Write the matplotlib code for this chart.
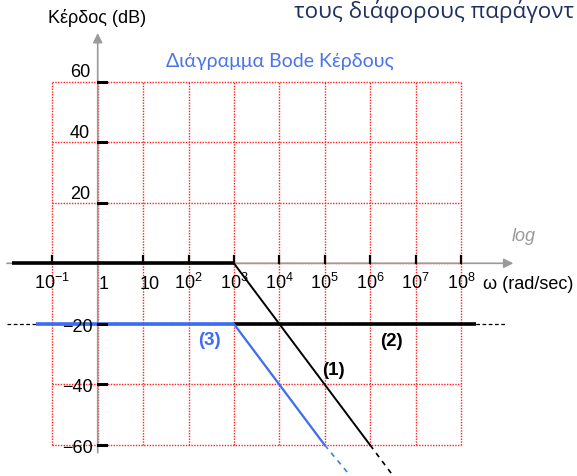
import matplotlib.pyplot as plt

plt.rcParams['font.family'] = ['Liberation Sans', 'DejaVu Sans']
plt.rcParams['mathtext.fontset'] = 'custom'
plt.rcParams['mathtext.rm'] = 'Liberation Sans'
plt.rcParams['mathtext.it'] = 'Liberation Sans:italic'

# frequency axis in decades (log10 of omega)
decades = [-1, 0, 1, 2, 3, 4, 5, 6, 7, 8]
decade_labels = [r'$10^{-1}$', '1', '10', r'$10^2$', r'$10^3$', r'$10^4$',
                 r'$10^5$', r'$10^6$', r'$10^7$', r'$10^8$']
gain_ticks = [60, 40, 20, -20, -40, -60]
gain_labels = ['60', '40', '20', '\u221220', '\u221240', '\u221260']

# (1) single pole at 10^3 rad/s, -20 dB/dec
f1_flat_x, f1_flat_y = [-1.89, 3], [0, 0]
f1_slope_x, f1_slope_y = [3, 6], [0, -60]
f1_tail_x, f1_tail_y = [6, 6.5], [-60, -70]
# (2) constant gain of -20 dB
f2_x, f2_y = [3, 8.33], [-20, -20]
f2_guide_x, f2_guide_y = [-2.0, 9.0], [-20, -20]
# (3) sum of (1) and (2)
f3_flat_x, f3_flat_y = [-1.36, 3], [-20, -20]
f3_slope_x, f3_slope_y = [3, 5], [-20, -60]
f3_tail_x, f3_tail_y = [5, 5.5], [-60, -69]

GRID_RED = '#ff2020'
AXIS_GREY = '#9a9a9a'
BLUE = '#3b6cf2'

fig = plt.figure(figsize=(5.77, 4.77), dpi=100)
ax = fig.add_axes([0, 0, 1, 1])
ax.set_xlim(-2.152, 10.557)
ax.set_ylim(-70.2, 87.23)
ax.axis('off')

# red dotted grid
for d in decades:
    ax.plot([d, d], [-60, 60], color=GRID_RED, lw=1, ls=(0, (1, 1)), zorder=1)
for g in gain_ticks + [0]:
    ax.plot([-1, 8], [g, g], color=GRID_RED, lw=1, ls=(0, (1, 1)), zorder=1)

# axes with arrow heads
ax.annotate('', xy=(9.155, 0), xytext=(-2.0, 0),
            arrowprops=dict(arrowstyle='-|>', color=AXIS_GREY, lw=1.2,
                            mutation_scale=14, shrinkA=0, shrinkB=0), zorder=2)
ax.annotate('', xy=(0, 76.0), xytext=(0, -62.5),
            arrowprops=dict(arrowstyle='-|>', color=AXIS_GREY, lw=1.2,
                            mutation_scale=14, shrinkA=0, shrinkB=0), zorder=2)

# asymptotes
ax.plot(f2_guide_x, f2_guide_y, color='black', lw=0.9, ls=(0, (3, 2)), zorder=3)
ax.plot(f1_flat_x, f1_flat_y, color='black', lw=2.6, solid_capstyle='butt', zorder=4)
ax.plot(f1_slope_x, f1_slope_y, color='black', lw=1.4, zorder=4)
ax.plot(f1_tail_x, f1_tail_y, color='black', lw=1.2, ls=(0, (3, 3)), zorder=4)
ax.plot(f2_x, f2_y, color='black', lw=2.6, solid_capstyle='butt', zorder=4)
ax.plot(f3_flat_x, f3_flat_y, color=BLUE, lw=2.6, solid_capstyle='butt', zorder=5)
ax.plot(f3_slope_x, f3_slope_y, color=BLUE, lw=1.6, zorder=5)
ax.plot(f3_tail_x, f3_tail_y, color='#2f8ad8', lw=1.2, ls=(0, (3, 3)), zorder=5)

# tick marks
for d in decades:
    if d != 0:
        ax.plot([d, d], [0, 2.5], color='black', lw=1.6, zorder=6)
for g in gain_ticks:
    ax.plot([0, 0.18], [g, g], color='black', lw=2.2, zorder=6)

# tick labels
for d, lab in zip(decades, decade_labels):
    dx = 0.14 if lab in ('1', '10') else 0.0
    ax.text(d + dx, -8.2, lab, ha='center', va='baseline', fontsize=13, zorder=7)
for g, lab in zip(gain_ticks, gain_labels):
    if g > 0:
        ax.text(-0.17, g + 3.2, lab, ha='right', va='center', fontsize=13, zorder=7)
    else:
        ax.text(-0.10, g - 0.8, lab, ha='right', va='center', fontsize=13, zorder=7)

ax.text(-0.02, 81.2, 'Κέρδος (dB)', ha='center', va='center', fontsize=13)
ax.text(8.49, -8.2, 'ω (rad/sec)', ha='left', va='baseline', fontsize=13)
ax.text(9.39, 9.3, 'log', ha='center', va='center', fontsize=13,
        style='italic', color=AXIS_GREY)

ax.text(2.46, -25.2, '(3)', ha='center', va='center', fontsize=13.5,
        fontweight='bold', color=BLUE)
ax.text(5.20, -34.9, '(1)', ha='center', va='center', fontsize=13.5, fontweight='bold')
ax.text(6.48, -25.5, '(2)', ha='center', va='center', fontsize=13.5, fontweight='bold')

ax.text(4.015, 66.9, 'Διάγραμμα Bode Κέρδους', ha='center', va='center',
        fontsize=14, color='#4a74e8', family=['Lato', 'DejaVu Sans'])
ax.text(4.33, 83.3, 'τους διάφορους παράγοντ', ha='left', va='center',
        fontsize=16.2, color='#1f3060', family=['Open Sans', 'DejaVu Sans'])

fig.savefig('out.png', dpi=100)
